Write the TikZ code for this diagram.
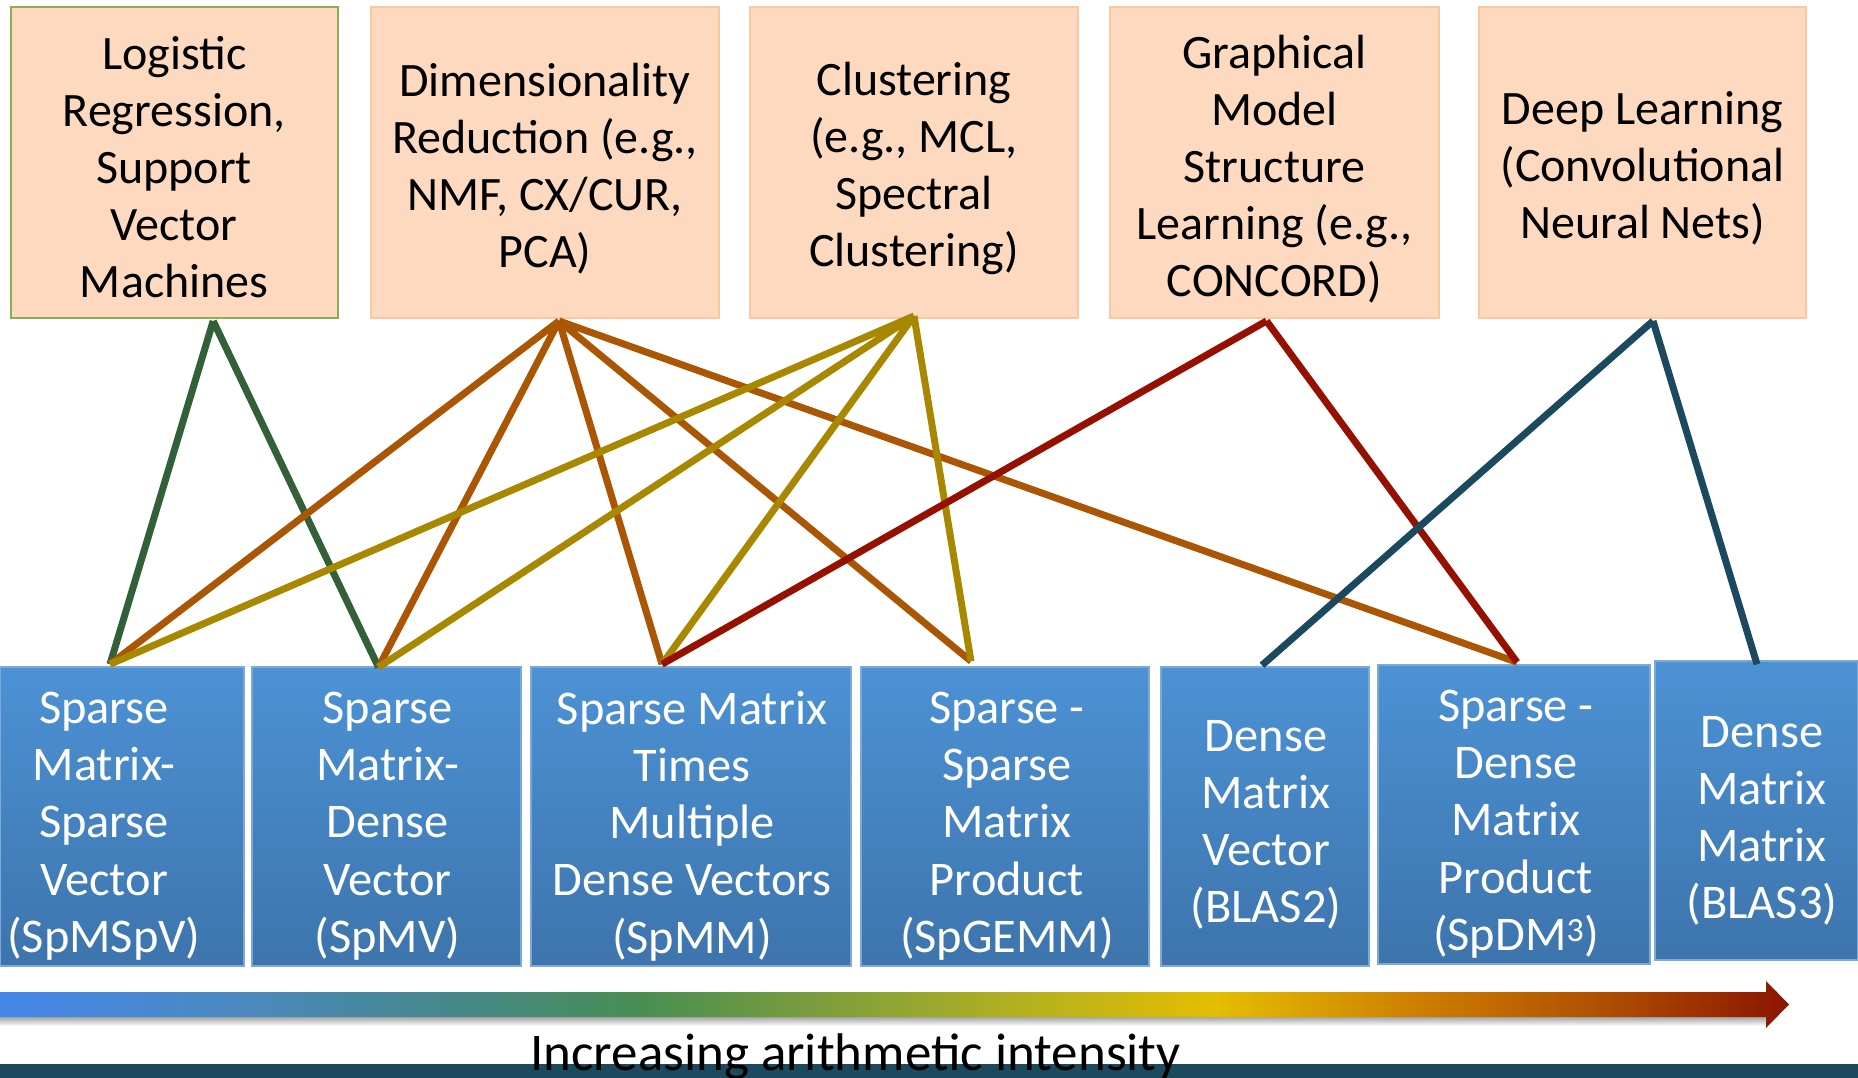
\documentclass[tikz,border=0pt]{standalone}
\usepackage{fontspec}
\setmainfont{Carlito}
\usetikzlibrary{calc}
\definecolor{topfill}{RGB}{253,217,191}
\definecolor{topdraw}{RGB}{250,200,158}
\definecolor{greendraw}{RGB}{143,172,78}
\definecolor{btop}{RGB}{76,146,213}
\definecolor{bbot}{RGB}{61,116,172}
\definecolor{bdraw}{RGB}{125,168,218}
\definecolor{lgreen}{RGB}{50,96,56}
\definecolor{lorange}{RGB}{170,86,4}
\definecolor{lolive}{RGB}{168,136,0}
\definecolor{lred}{RGB}{150,16,0}
\definecolor{lteal}{RGB}{27,73,96}
\definecolor{barcol}{RGB}{27,74,94}
\definecolor{ga}{RGB}{70,135,235}
\definecolor{gb}{RGB}{75,137,192}
\definecolor{gc}{RGB}{70,135,135}
\definecolor{gd}{RGB}{72,142,82}
\definecolor{ge}{RGB}{125,158,60}
\definecolor{gf}{RGB}{175,175,35}
\definecolor{gg}{RGB}{228,190,0}
\definecolor{gh}{RGB}{205,125,0}
\definecolor{gi}{RGB}{175,80,0}
\definecolor{gj}{RGB}{140,20,0}
\pgfdeclarehorizontalshading{intensity}{100bp}{color(0bp)=(ga); color(25bp)=(ga); color(31.6bp)=(gb); color(38bp)=(gc); color(42.9bp)=(gd); color(48bp)=(ge); color(53bp)=(gf); color(59bp)=(gg); color(64.7bp)=(gh); color(69.7bp)=(gi); color(75bp)=(gj); color(100bp)=(gj)}
\tikzset{
  topbox/.style={draw=topdraw, fill=topfill, line width=2pt, inner sep=0pt},
  toptext/.style={inner sep=0pt, align=center, font=\fontsize{48}{57}\selectfont, text=black},
  botbox/.style={draw=bdraw, top color=btop, bottom color=bbot, line width=1.5pt, inner sep=0pt},
  bottext/.style={inner sep=0pt, align=center, font=\fontsize{48.4}{57.2}\selectfont, text=white},
  conn/.style={line width=7pt}
}
\begin{document}
\begin{tikzpicture}[x=1pt,y=-1pt]
\useasboundingbox (0,0) rectangle (1858,1078);
\fill[white] (0,0) rectangle (1858,1078);
% top boxes
\node[topbox, draw=greendraw, minimum width=327pt, minimum height=311pt] (t1) at (174.2,162.5) {};
\node[topbox, minimum width=348pt, minimum height=311pt] (t2) at (545,162.5) {};
\node[topbox, minimum width=328pt, minimum height=311pt] (t3) at (914,162.5) {};
\node[topbox, minimum width=329pt, minimum height=311pt] (t4) at (1274.5,162.5) {};
\node[topbox, minimum width=327pt, minimum height=311pt] (t5) at (1642.5,162.5) {};
\node[toptext] (t1t) at ($(t1.center)+(0,5)$) {Logistic\\Regression,\\Support\\Vector\\Machines};
\node[toptext] (t2t) at ($(t2.center)+(0,6)$) {Dimensionality\\Reduction (e.g.,\\NMF, CX/CUR,\\PCA)};
\node[toptext] (t3t) at ($(t3.center)+(0,6)$) {Clustering\\(e.g., MCL,\\Spectral\\Clustering)};
\node[toptext] (t4t) at ($(t4.center)+(0,7)$) {Graphical\\Model\\Structure\\Learning (e.g.,\\CONCORD)};
\node[toptext] (t5t) at ($(t5.center)+(0,6)$) {Deep Learning\\(Convolutional\\Neural Nets)};
% bottom boxes
\node[botbox, minimum width=244pt, minimum height=299pt] (b1) at (122,816.5) {};
\node[botbox, minimum width=269pt, minimum height=299pt] (b2) at (386.5,816.5) {};
\node[botbox, minimum width=320pt, minimum height=299pt] (b3) at (691,816.5) {};
\node[botbox, minimum width=288pt, minimum height=299pt] (b4) at (1005,816.5) {};
\node[botbox, minimum width=208pt, minimum height=299pt] (b5) at (1265,816.5) {};
\node[botbox, minimum width=272pt, minimum height=299pt] (b6) at (1514,814.5) {};
\node[botbox, minimum width=203pt, minimum height=299pt] (b7) at (1756.5,810.5) {};
\node[bottext] (b1t) at ($(b1.center)+(-18,9.5)$) {Sparse\\Matrix-\\Sparse\\Vector\\(SpMSpV)};
\node[bottext] (b2t) at ($(b2.center)+(1,9.5)$) {Sparse\\Matrix-\\Dense\\Vector\\(SpMV)};
\node[bottext] (b3t) at ($(b3.center)+(1,9.5)$) {Sparse Matrix\\Times\\Multiple\\Dense Vectors\\(SpMM)};
\node[bottext] (b4t) at ($(b4.center)+(2,9.5)$) {Sparse -\\Sparse\\Matrix\\Product\\(SpGEMM)};
\node[bottext] (b5t) at ($(b5.center)+(1,8.5)$) {Dense\\Matrix\\Vector\\(BLAS2)};
\node[bottext] (b6t) at ($(b6.center)+(2,9.5)$) {Sparse -\\Dense\\Matrix\\Product\\(SpDM\textsuperscript{3})};
\node[bottext] (b7t) at ($(b7.center)+(5.5,10.5)$) {Dense\\Matrix\\Matrix\\(BLAS3)};
% anchor coordinates
\coordinate (a1) at ($(t1.south)+(39,2)$);
\coordinate (a2) at ($(t2.south)+(14,2)$);
\coordinate (a3) at ($(t3.south)+(0,-3)$);
\coordinate (a4) at ($(t4.south)+(-8,2)$);
\coordinate (a5) at ($(t5.south)+(10.5,2)$);
\coordinate (p1) at ($(b1.north)+(-12,-2)$);
\coordinate (p2) at ($(b2.north)+(-8,1)$);
\coordinate (p3) at ($(b3.north)+(-29,-2)$);
\coordinate (p4) at ($(b4.north)+(-34,-5)$);
\coordinate (p5) at ($(b5.north)+(-3,-1)$);
\coordinate (p6) at ($(b6.north)+(3,-2)$);
\coordinate (p7) at ($(b7.north)+(0.5,4)$);
% connectors
\draw[conn, lgreen] (a1) -- (p1) (a1) -- (p2);
\draw[conn, lorange] (a2) -- (p1) (a2) -- (p2) (a2) -- (p3) (a2) -- (p4) (a2) -- (p6);
\draw[conn, lolive] (a3) -- (p1) (a3) -- (p2) (a3) -- (p3) (a3) -- (p4);
\draw[conn, lred] (a4) -- (p3) (a4) -- (p6);
\draw[conn, lteal] (a5) -- (p5) (a5) -- (p7);
% arrow shadow
\shade[top color=black!35, bottom color=white] (0,1017) rectangle (1766,1026);
% gradient arrow
\shade[shading=intensity] (0,992) -- (1766,992) -- (1766,981) -- (1789,1004.5) -- (1766,1028) -- (1766,1017) -- (0,1017) -- cycle;
% bottom bar
\fill[barcol] (0,1064) rectangle (1858,1078);
\node[anchor=base, inner sep=0pt, font=\fontsize{53}{60}\selectfont, text=black] (lbl) at (855.5,1070)
  {Increasing arithmetic intensity};
\end{tikzpicture}
\end{document}
